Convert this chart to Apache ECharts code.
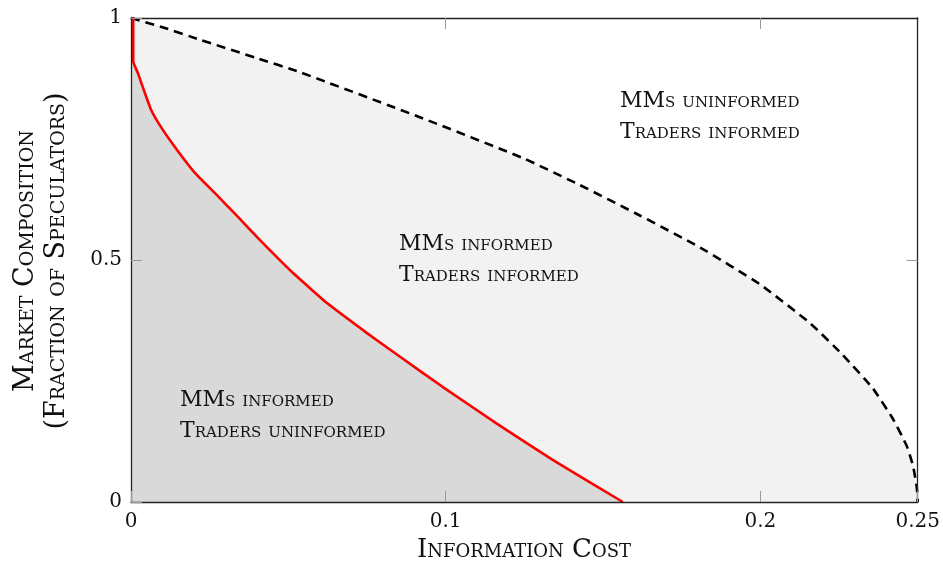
<!DOCTYPE html>
<html lang="en">
<head>
    <meta charset="UTF-8">
    <title>Market Composition</title>
    <script src="https://cdn.jsdelivr.net/npm/echarts@6/dist/echarts.min.js"></script>
    <style>
        html, body { margin: 0; padding: 0; background: #fff; }
        #main { width: 943px; height: 569px; }
    </style>
</head>
<body>
<div id="main"></div>
<script>
    // values
    var redCost = [0, 0.0007, 0.0007, 0.0022, 0.0044, 0.0064, 0.0095, 0.014, 0.0203, 0.0267, 0.034,
        0.041, 0.0515, 0.0623, 0.075, 0.0855, 0.099, 0.116, 0.134, 0.1563];
    var redShare = [1, 1, 0.91, 0.886, 0.845, 0.81, 0.775, 0.733, 0.68, 0.638, 0.589,
        0.541, 0.473, 0.411, 0.349, 0.300, 0.238, 0.163, 0.087, 0];

    var dashCost = [0, 0.01, 0.022, 0.04, 0.0537, 0.0918, 0.1244, 0.1426, 0.1617, 0.1808, 0.1998,
        0.2157, 0.226, 0.2357, 0.242, 0.2465, 0.2485, 0.2497, 0.25];
    var dashShare = [1, 0.981, 0.955, 0.917, 0.888, 0.795, 0.711, 0.655, 0.592, 0.526, 0.450,
        0.37, 0.305, 0.235, 0.173, 0.116, 0.075, 0.03, 0];

    var xTicks = [0, 0.1, 0.2, 0.25];
    var yTicks = [0, 0.5, 1];
    var xTicksTop = [0.1, 0.2];
    var yTicksRight = [0.5];

    function pairs(xs, ys) {
        var out = [];
        for (var i = 0; i < xs.length; i++) out.push([xs[i], ys[i]]);
        return out;
    }

    var serif = '"DejaVu Serif", "Liberation Serif", serif';
    var sc = { fontFamily: serif, fontStyle: 'small-caps', fontSize: 22, fill: '#111' };

    function note(x, y, txt) {
        return { type: 'text', left: x, top: y, z: 50,
            style: Object.assign({}, sc, { text: txt, lineHeight: 31 }) };
    }

    function axis(base, ticks, label) {
        return Object.assign({
            type: 'value', z: 10,
            axisLine: { show: true, onZero: false, lineStyle: { color: '#222', width: 1.3 } },
            axisTick: { inside: true, length: 11, customValues: ticks, lineStyle: { color: '#999' } },
            axisLabel: label ? Object.assign({ customValues: ticks, fontFamily: serif, fontSize: 20, color: '#111' }, label)
                             : { show: false },
            splitLine: { show: false }
        }, base);
    }

    var chart = echarts.init(document.getElementById('main'));
    var option = {
        animation: false,
        grid: { left: 131, right: 25, top: 18, bottom: 67, containLabel: false },
        xAxis: [
            axis({ min: 0, max: 0.25, position: 'bottom' }, xTicks, { margin: 10 }),
            axis({ min: 0, max: 0.25, position: 'top' }, xTicksTop, null)
        ],
        yAxis: [
            axis({ min: 0, max: 1, position: 'left' }, yTicks, { margin: 9 }),
            axis({ min: 0, max: 1, position: 'right' }, yTicksRight, null)
        ],
        series: [
            {
                name: 'bound', type: 'line', data: pairs(dashCost, dashShare),
                showSymbol: false, smooth: 0.15, z: 3,
                lineStyle: { color: '#000', width: 2.6, type: [9, 6] },
                areaStyle: { color: '#f2f2f2', opacity: 1 }
            },
            {
                name: 'threshold', type: 'line', data: pairs(redCost, redShare),
                showSymbol: false, smooth: 0.1, z: 4,
                lineStyle: { color: '#ff0000', width: 2.6 },
                areaStyle: { color: '#d9d9d9', opacity: 1 }
            }
        ],
        graphic: [
            note(620, 86, 'MMs uninformed\nTraders informed'),
            note(399, 229, 'MMs informed\nTraders informed'),
            note(180, 385, 'MMs informed\nTraders uninformed'),
            { type: 'text', x: 524, y: 550, z: 50,
              style: Object.assign({}, sc, { text: 'Information Cost', fontSize: 26,
                  align: 'center', verticalAlign: 'middle' }) },
            { type: 'text', x: 41, y: 261, rotation: Math.PI / 2, z: 50,
              style: Object.assign({}, sc, { text: 'Market Composition\n(Fraction of Speculators)',
                  fontSize: 27, align: 'center', verticalAlign: 'middle', lineHeight: 31 }) }
        ]
    };
    chart.setOption(option);
</script>
</body>
</html>
